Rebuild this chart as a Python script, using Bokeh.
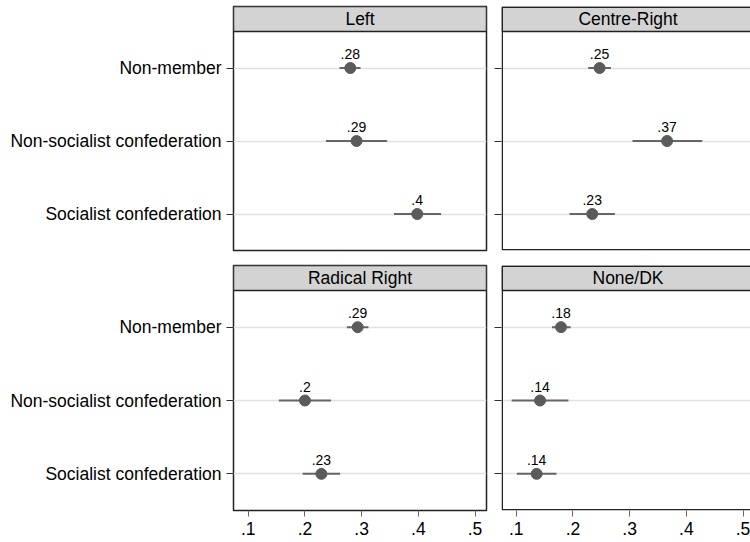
from bokeh.plotting import figure
from bokeh.layouts import gridplot
from bokeh.models import (Range1d, FixedTicker, CustomJSTickFormatter, BoxAnnotation,
                          Label, LabelSet, ColumnDataSource)
from bokeh.core.properties import value
from bokeh.embed import file_html
from bokeh.resources import INLINE

# Union membership groups (top to bottom) and the party panels
groups = ["Non-member", "Non-socialist confederation", "Socialist confederation"]
panel_names = ["Left", "Centre-Right", "Radical Right", "None/DK"]

# Predicted probabilities with 95% confidence intervals, one list per panel
left_est = [0.280, 0.291, 0.398]
left_lo = [0.261, 0.237, 0.357]
left_hi = [0.298, 0.345, 0.440]

centre_right_est = [0.247, 0.366, 0.234]
centre_right_lo = [0.227, 0.305, 0.194]
centre_right_hi = [0.267, 0.428, 0.274]

radical_right_est = [0.293, 0.200, 0.229]
radical_right_lo = [0.274, 0.154, 0.196]
radical_right_hi = [0.312, 0.246, 0.262]

none_dk_est = [0.179, 0.142, 0.136]
none_dk_lo = [0.163, 0.092, 0.101]
none_dk_hi = [0.196, 0.192, 0.171]

x_ticks = [0.1, 0.2, 0.3, 0.4, 0.5]

FONT = "Liberation Sans"
DOT = "#5b5b5b"
BORDER = "#222222"
HEADER_FILL = "#d3d3d3"
HEADER_PX = 25
PX_PER_UNIT = 567.0
X_START = 0.074
INSET_PX = 0.75


def fmt(v):
    return f"{v:.2f}".rstrip("0").lstrip("0")


def make_panel(name, est, lo, hi, col, row):
    left_col = col == 0
    bottom_row = row == 1

    width = 490 if left_col else 260
    mb_left = 233 if left_col else 11
    mb_right = 4 if left_col else 0
    height = 257 if not bottom_row else 285
    mb_top = 6 if not bottom_row else 8
    mb_bottom = 7 if not bottom_row else 32

    frame_w = width - mb_left - mb_right
    frame_h = height - mb_top - mb_bottom
    x_end = X_START + frame_w / PX_PER_UNIT
    unit = (frame_h - HEADER_PX) / len(groups)
    y_end = len(groups) + 0.5 + HEADER_PX / unit

    p = figure(width=width, height=height, output_backend="svg", toolbar_location=None,
               x_range=Range1d(X_START, x_end), y_range=Range1d(0.5, y_end),
               x_axis_location="below" if bottom_row else None,
               min_border_left=mb_left, min_border_right=mb_right,
               min_border_top=mb_top, min_border_bottom=mb_bottom)
    p.background_fill_color = "white"
    p.border_fill_color = "white"

    ypos = [len(groups) - i for i in range(len(groups))]

    # grid: one light line per group
    p.xgrid.visible = False
    p.ygrid.ticker = FixedTicker(ticks=ypos)
    p.ygrid.grid_line_color = "#e1e1e1"
    p.ygrid.grid_line_width = 1.5

    # y axis with group names on the left column only
    yax = p.yaxis[0]
    yax.ticker = FixedTicker(ticks=ypos)
    if left_col:
        yax.formatter = CustomJSTickFormatter(args=dict(labels=groups),
                                              code="return labels[labels.length - tick];")
    else:
        yax.formatter = CustomJSTickFormatter(code="return '';")
    yax.axis_line_color = None
    yax.major_tick_in = 0
    yax.major_tick_out = 7
    yax.major_tick_line_color = "#333333"
    yax.major_tick_line_width = 1
    yax.minor_tick_line_color = None
    yax.major_label_text_font = FONT
    yax.major_label_text_font_size = "17.5px"
    yax.major_label_text_color = "black"
    yax.major_label_standoff = 5 if left_col else 0

    if bottom_row:
        xax = p.xaxis[0]
        xax.ticker = FixedTicker(ticks=x_ticks)
        xax.formatter = CustomJSTickFormatter(code="return tick.toFixed(1).replace(/^0/, '');")
        xax.axis_line_color = None
        xax.major_tick_in = 0
        xax.major_tick_out = 6
        xax.major_tick_line_color = "#666666"
        xax.minor_tick_line_color = None
        xax.major_label_text_font = FONT
        xax.major_label_text_font_size = "17.5px"
        xax.major_label_text_color = "black"
        xax.major_label_standoff = 5

    # frame borders: full outline on the left column, open on the right edge otherwise
    dx = INSET_PX / PX_PER_UNIT
    dy = INSET_PX / unit
    box_left = X_START if left_col else X_START + dx
    box_right = x_end if left_col else x_end + 1.0
    box_top = y_end if left_col else y_end - dy
    if left_col:
        p.outline_line_color = BORDER
        p.outline_line_width = 1.5
        p.outline_line_alpha = 1.0
    else:
        p.outline_line_color = None
        p.add_layout(BoxAnnotation(left=box_left, right=box_right, bottom=0.5 + dy, top=box_top,
                                   fill_alpha=0, line_color=BORDER, line_alpha=1.0,
                                   line_width=1.5, level="overlay"))

    # panel header strip
    p.add_layout(BoxAnnotation(left=box_left, right=box_right, bottom=len(groups) + 0.5,
                               top=box_top, fill_color=HEADER_FILL, fill_alpha=1,
                               line_color=BORDER, line_alpha=1.0, line_width=1.5))
    center_x = X_START + 253 / 2 / PX_PER_UNIT
    p.add_layout(Label(x=center_x, y=(len(groups) + 0.5 + y_end) / 2, text=name,
                       text_align="center", text_baseline="middle",
                       text_font=FONT, text_font_size="17.5px", text_color="black"))

    src = ColumnDataSource(dict(y=ypos, est=est, lo=lo, hi=hi, lab=[fmt(v) for v in est]))
    p.segment(x0="lo", y0="y", x1="hi", y1="y", source=src, line_color="#666666", line_width=2)
    p.scatter(x="est", y="y", source=src, size=11, fill_color=DOT, line_color=DOT)
    p.add_layout(LabelSet(x="est", y="y", text="lab", source=src, y_offset=9,
                          text_align="center", text_baseline="bottom",
                          text_font=value(FONT), text_font_size="14px", text_color="black"))
    return p


p1 = make_panel(panel_names[0], left_est, left_lo, left_hi, 0, 0)
p2 = make_panel(panel_names[1], centre_right_est, centre_right_lo, centre_right_hi, 1, 0)
p3 = make_panel(panel_names[2], radical_right_est, radical_right_lo, radical_right_hi, 0, 1)
p4 = make_panel(panel_names[3], none_dk_est, none_dk_lo, none_dk_hi, 1, 1)

layout = gridplot([[p1, p2], [p3, p4]], toolbar_location=None)

with open("out.html", "w") as f:
    f.write(file_html(layout, INLINE))
